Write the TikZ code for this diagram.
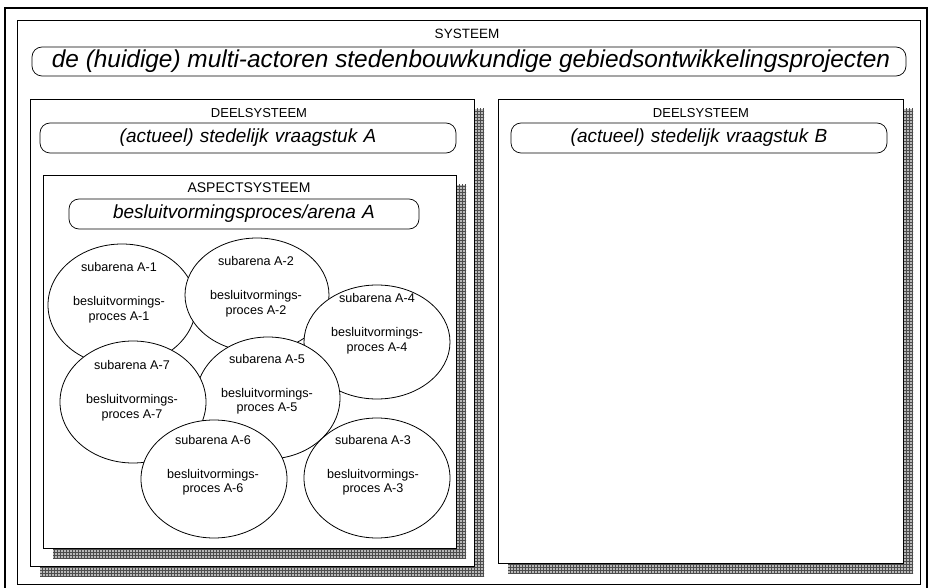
\documentclass[tikz,border=0pt]{standalone}
\usepackage{fontspec}
\setmainfont{Liberation Sans}
\usetikzlibrary{shapes.geometric,patterns,fit}

\begin{document}
\begin{tikzpicture}[x=1pt,y=-1pt,
  frame/.style={draw=black, line width=0.8pt, fill=white, inner sep=0pt},
  dropshadow/.style={fill=gray!55, postaction={pattern=grid, pattern color=black!70}},
  titlebox/.style={draw=black, line width=0.7pt, rounded corners=10pt, fill=white,
                   inner sep=0pt, align=center},
  header/.style={font=\fontsize{13.5}{15}\selectfont},
  topic/.style={font=\fontsize{19}{22}\selectfont\itshape},
  arena/.style={ellipse, draw=black, line width=0.8pt, fill=white, inner sep=0pt},
  arenatext/.style={align=center, font=\fontsize{12.6}{14.5}\selectfont}
]
\useasboundingbox (0,0) rectangle (930,588);

% heavy outer border
\draw[line width=2.4pt] (5,595) -- (5,8) -- (927,8) -- (927,595);

% system level
\coordinate (sysnw) at (17,20);
\coordinate (sysse) at (920,584);
\node[frame, fill=none, fit={(sysnw)(sysse)}] (sys) {};
\node[header] (syslbl) at (467,34) {SYSTEEM};
\node[titlebox, minimum width=874pt, minimum height=29pt] (systopic) at (469,61.5) {};
\node[font=\fontsize{24.4}{26}\selectfont\itshape, inner sep=0pt] (systext) at (471,61)
  {de (huidige) multi-actoren stedenbouwkundige gebiedsontwikkelingsprojecten};

% subsystem A
\coordinate (dsAnw) at (30,99);
\coordinate (dsAse) at (474,566);
\fill[dropshadow] ([shift={(10,10)}]dsAnw) rectangle ([shift={(10,10)}]dsAse);
\node[frame, fit={(dsAnw)(dsAse)}] (dsA) {};
\node[header, font=\fontsize{13}{15}\selectfont] (dsAlbl) at (259,113) {DEELSYSTEEM};
\node[titlebox, topic, text width=416pt, minimum height=30pt] (dsAtopic) at (248,138)
  {(actueel) stedelijk vraagstuk A};

% subsystem B
\coordinate (dsBnw) at (498,99);
\coordinate (dsBse) at (903,563);
\fill[dropshadow] ([shift={(10,10)}]dsBnw) rectangle ([shift={(10,10)}]dsBse);
\node[frame, fit={(dsBnw)(dsBse)}] (dsB) {};
\node[header, font=\fontsize{13}{15}\selectfont] (dsBlbl) at (701,113) {DEELSYSTEEM};
\node[titlebox, topic, text width=376pt, minimum height=30pt] (dsBtopic) at (699,138)
  {(actueel) stedelijk vraagstuk B};

% aspect system inside A
\coordinate (asnw) at (43,175);
\coordinate (asse) at (456,548);
\fill[dropshadow] ([shift={(10,10)}]asnw) rectangle ([shift={(10,10)}]asse);
\node[frame, fit={(asnw)(asse)}] (as) {};
\node[header, font=\fontsize{14}{16}\selectfont] (aslbl) at (249,188) {ASPECTSYSTEEM};
\node[titlebox, topic, text width=350pt, minimum height=30pt] (astopic) at (244,214)
  {besluitvormingsproces/arena A};

% sub-arenas, drawn back to front
\node[arena, minimum width=148pt, minimum height=122pt] (e1) at (122,305) {};
\node[arenatext] (t1) at (119,292.5) {subarena A-1\\[19.5pt]besluitvormings-\\proces A-1};
\node[arena, minimum width=144pt, minimum height=114pt] (e2) at (257,295) {};
\node[arenatext] (t2) at (256,286.5) {subarena A-2\\[19.5pt]besluitvormings-\\proces A-2};
\node[arena, minimum width=146pt, minimum height=114pt] (e4) at (377,342) {};
\node[arenatext] (t4) at (377,323.5) {subarena A-4\\[19.5pt]besluitvormings-\\proces A-4};
\node[arena, minimum width=144pt, minimum height=122pt] (e5) at (268,398) {};
\node[arenatext] (t5) at (267,384) {subarena A-5\\[19.5pt]besluitvormings-\\proces A-5};
\node[arena, minimum width=146pt, minimum height=122pt] (e7) at (133,402) {};
\node[arenatext] (t7) at (132,390.5) {subarena A-7\\[19.5pt]besluitvormings-\\proces A-7};
\node[arena, minimum width=146pt, minimum height=118pt] (e6) at (214,479) {};
\node[arenatext] (t6) at (213,465) {subarena A-6\\[19.5pt]besluitvormings-\\proces A-6};
\node[arena, minimum width=146pt, minimum height=120pt] (e3) at (377,478) {};
\node[arenatext] (t3) at (373,465) {subarena A-3\\[19.5pt]besluitvormings-\\proces A-3};
\end{tikzpicture}
\end{document}
